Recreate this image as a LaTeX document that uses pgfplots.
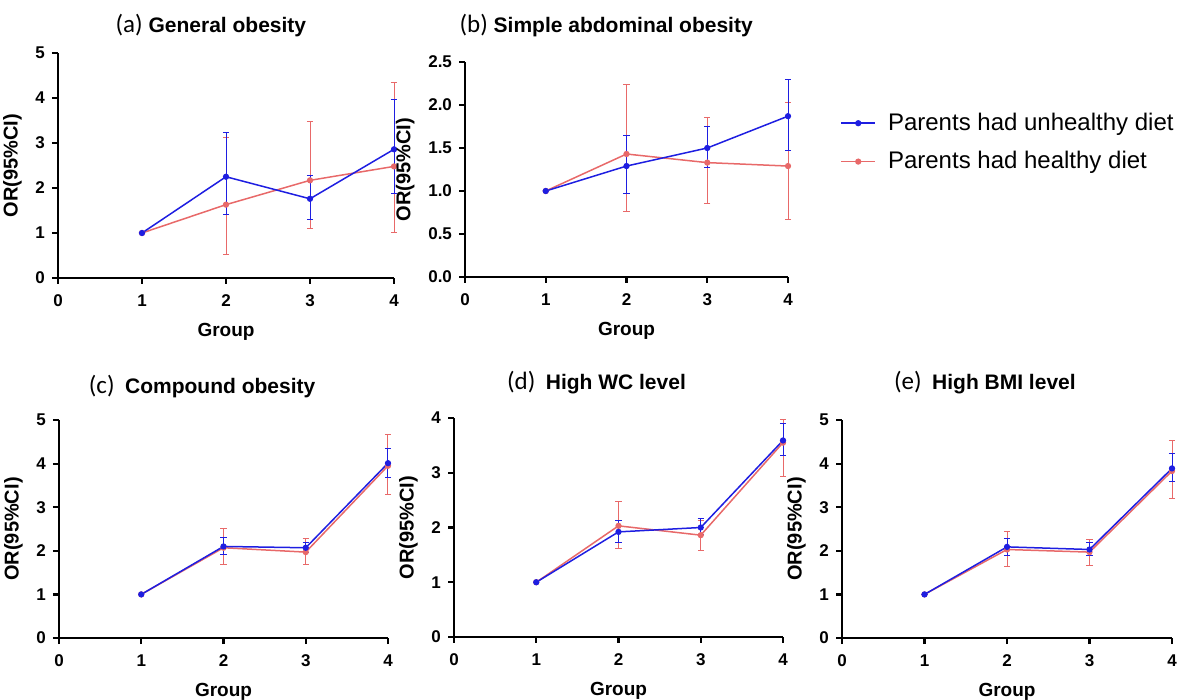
\documentclass[border=0pt]{standalone}
\usepackage{fontspec}
\setmainfont{Liberation Sans}
\newfontfamily\carlito{Carlito}
\usepackage{pgfplots}
\pgfplotsset{compat=1.18}
\definecolor{cblue}{RGB}{30,30,225}
\definecolor{cred}{RGB}{232,105,105}

\pgfplotsset{
 panel/.style={
  scale only axis, clip=false,
  axis x line*=bottom, axis y line*=left,
  axis line style={line width=1.1pt, black},
  xmin=0, xmax=4, xtick={0,1,2,3,4}, ymin=0,
  tick align=outside, major tick length=3pt, minor tick num=0,
  every tick/.style={black, line width=1.1pt},
  tick label style={font=\bfseries\fontsize{8.5}{10}\selectfont},
  xticklabel style={yshift=-2pt},
  /pgf/number format/assume math mode=true,
  xlabel={Group}, ylabel={OR(95\%CI)},
  xlabel style={font=\bfseries\fontsize{9.5}{11}\selectfont, yshift=-1pt},
  ylabel style={font=\bfseries\fontsize{10}{12}\selectfont},
  title style={anchor=base, font=\bfseries\fontsize{10.5}{12}\selectfont},
 },
 ser/.style={color=#1, line width=0.75pt, mark=*, mark size=1.3pt,
   mark options={fill=#1, draw=#1, line width=0.5pt},
   error bars/.cd, y dir=both, y explicit,
   error bar style={line width=0.5pt, #1},
   error mark options={rotate=90, mark size=1.6pt, line width=0.5pt, #1}},
 /pgfplots/table/tabopts/.style={x=g, y=v, y error plus expr=\thisrow{hi}-\thisrow{v}, y error minus expr=\thisrow{v}-\thisrow{lo}},
}

\begin{document}
\begin{tikzpicture}
\path[use as bounding box] (0,0) rectangle (593.5pt,350pt);

% (a)
\begin{axis}[panel, at={(29pt,211pt)}, anchor=south west, width=168pt, height=112.5pt,
  ymax=5, ytick={0,1,2,3,4,5},
  title={{\carlito\mdseries\fontsize{12.5}{14}\selectfont (a)} General obesity},
  title style={at={(0.455,1)}, yshift=4pt}]
\addplot[ser=cred] table[tabopts] {
g v lo hi
1 1 1 1
2 1.63 0.53 3.12
3 2.17 1.10 3.47
4 2.48 1.02 4.34
};
\addplot[ser=cblue] table[tabopts] {
g v lo hi
1 1 1 1
2 2.25 1.40 3.23
3 1.76 1.30 2.28
4 2.86 1.87 3.96
};
\end{axis}

% (b)
\begin{axis}[panel, at={(232.5pt,211.5pt)}, anchor=south west, width=161.5pt, height=107.5pt,
  ymax=2.5, ytick={0,0.5,1,1.5,2,2.5},
  yticklabel style={/pgf/number format/.cd, fixed, fixed zerofill, precision=1},
  title={{\carlito\mdseries\fontsize{12.5}{14}\selectfont (b)} Simple abdominal obesity},
  title style={at={(0.437,1)}, yshift=8.5pt},
  reverse legend,
  legend style={draw=none, fill=none, at={(1.161,0.626)}, anchor=west, inner sep=0pt,
    font=\fontsize{12}{14}\selectfont, row sep=5pt, cells={anchor=west},
    /tikz/every odd column/.append style={column sep=4pt}}]
\addplot[ser=cred] table[tabopts] {
g v lo hi
1 1 1 1
2 1.43 0.76 2.24
3 1.33 0.85 1.86
4 1.29 0.67 2.03
};
\addlegendentry{Parents had healthy diet}
\addplot[ser=cblue] table[tabopts] {
g v lo hi
1 1 1 1
2 1.29 0.97 1.64
3 1.50 1.27 1.75
4 1.87 1.47 2.30
};
\addlegendentry{Parents had unhealthy diet}
\end{axis}

% (c)
\begin{axis}[panel, at={(29.5pt,31pt)}, anchor=south west, width=164.5pt, height=109pt,
  ymax=5, ytick={0,1,2,3,4,5},
  title={{\carlito\mdseries\fontsize{12.5}{14}\selectfont (c)}\enspace Compound obesity},
  title style={at={(0.435,1)}, yshift=7.5pt}]
\addplot[ser=cred] table[tabopts] {
g v lo hi
1 1 1 1
2 2.07 1.68 2.52
3 1.97 1.68 2.29
4 3.95 3.28 4.66
};
\addplot[ser=cblue] table[tabopts] {
g v lo hi
1 1 1 1
2 2.10 1.91 2.30
3 2.07 1.95 2.20
4 4.01 3.69 4.34
};
\end{axis}

% (d)
\begin{axis}[panel, at={(227pt,31.5pt)}, anchor=south west, width=164.5pt, height=109.5pt,
  ymax=4, ytick={0,1,2,3,4},
  title={{\carlito\mdseries\fontsize{12.5}{14}\selectfont (d)}\enspace High WC level},
  title style={at={(0.433,1)}, yshift=8.5pt}]
\addplot[ser=cred] table[tabopts] {
g v lo hi
1 1 1 1
2 2.03 1.62 2.48
3 1.86 1.58 2.13
4 3.55 2.94 3.98
};
\addplot[ser=cblue] table[tabopts] {
g v lo hi
1 1 1 1
2 1.92 1.73 2.12
3 2.00 1.87 2.16
4 3.59 3.31 3.90
};
\end{axis}

% (e)
\begin{axis}[panel, at={(421pt,31pt)}, anchor=south west, width=165pt, height=109pt,
  ymax=5, ytick={0,1,2,3,4,5},
  title={{\carlito\mdseries\fontsize{12.5}{14}\selectfont (e)}\enspace High BMI level},
  title style={at={(0.433,1)}, yshift=9.5pt}]
\addplot[ser=cred] table[tabopts] {
g v lo hi
1 1 1 1
2 2.03 1.64 2.44
3 1.97 1.67 2.26
4 3.83 3.20 4.52
};
\addplot[ser=cblue] table[tabopts] {
g v lo hi
1 1 1 1
2 2.09 1.89 2.29
3 2.03 1.89 2.19
4 3.89 3.60 4.23
};
\end{axis}
\end{tikzpicture}
\end{document}
